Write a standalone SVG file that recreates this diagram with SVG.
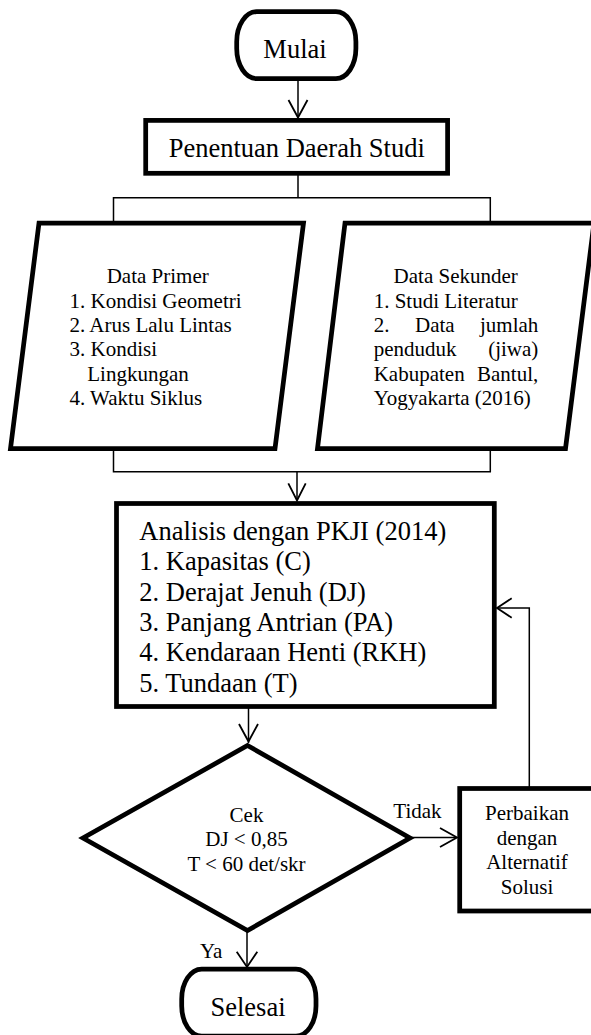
<svg xmlns="http://www.w3.org/2000/svg" width="591" height="1035" viewBox="0 0 591 1035">
<style>
.shape{fill:#fff;stroke:#000;stroke-width:4.75;stroke-linejoin:miter}
.line{fill:none;stroke:#000;stroke-width:1.5}
.head{fill:none;stroke:#000;stroke-width:1.8}
text{font-family:"Liberation Serif","Times New Roman",serif;fill:#000}
.big{font-size:26.5px}
.sm{font-size:21px}
.c{text-anchor:middle}
.e{text-anchor:end}
</style>
<rect width="591" height="1035" fill="#fff"/>
<g id="connectors">
<line class="line" x1="298" y1="78.6" x2="298" y2="117"/>
<polyline class="head" points="288.5,100 298,117.5 307.5,100"/>
<polyline class="line" points="298,173.3 298,197.7"/>
<polyline class="line" points="113.5,223 113.5,197.7 490.3,197.7 490.3,223"/>
<polyline class="line" points="113.5,448.5 113.5,471.7 490.3,471.7 490.3,448.5"/>
<line class="line" x1="297" y1="471.7" x2="297" y2="500"/>
<polyline class="head" points="288.3,483.3 297,500.5 305.7,483.3"/>
<line class="line" x1="248.5" y1="706.5" x2="248.5" y2="743"/>
<polyline class="head" points="239,724 248.5,741.5 258,724"/>
<line class="line" x1="410" y1="837.5" x2="456" y2="837.5"/>
<polyline class="head" points="440,828 457,837.5 440,847"/>
<line class="line" x1="247" y1="930.5" x2="247" y2="967"/>
<polyline class="head" points="236.7,951.7 247,967 257.3,951.7"/>
<polyline class="line" points="529.3,788.5 529.3,608 498,608"/>
<polyline class="head" points="511.7,598.3 497,608 511.7,617.7"/>
</g>
<g id="mulai">
<rect class="shape" x="236.7" y="11.7" width="119.2" height="66.9" rx="20" ry="30"/>
<text class="big c" x="295" y="57.7">Mulai</text>
</g>
<g id="penentuan">
<rect class="shape" x="145.7" y="120.4" width="301.9" height="52.9"/>
<text class="big c" x="296.7" y="156.7">Penentuan Daerah Studi</text>
</g>
<g id="data-primer">
<polygon class="shape" points="39,223 303.5,223 275,448.5 10.5,448.5"/>
<text class="sm c" x="157.7" y="283.3">Data Primer</text>
<text class="sm" x="69.5" y="307.6">1. Kondisi Geometri</text>
<text class="sm" x="69.5" y="331.9">2. Arus Lalu Lintas</text>
<text class="sm" x="69.5" y="356.2">3. Kondisi</text>
<text class="sm" x="87.3" y="380.5">Lingkungan</text>
<text class="sm" x="69.5" y="404.8">4. Waktu Siklus</text>
</g>
<g id="data-sekunder">
<polygon class="shape" points="345,223 594,223 565.5,448.5 317.5,448.5"/>
<text class="sm c" x="455.7" y="283.3">Data Sekunder</text>
<text class="sm" x="373.7" y="307.6">1. Studi Literatur</text>
<text class="sm" x="373.7" y="331.9">2.</text>
<text class="sm" x="415" y="331.9">Data</text>
<text class="sm e" x="538.3" y="331.9">jumlah</text>
<text class="sm" x="373.7" y="356.2">penduduk</text>
<text class="sm e" x="538.3" y="356.2">(jiwa)</text>
<text class="sm" x="373.7" y="380.5">Kabupaten</text>
<text class="sm e" x="538.3" y="380.5">Bantul,</text>
<text class="sm" x="373.7" y="404.8">Yogyakarta (2016)</text>
</g>
<g id="analisis">
<rect class="shape" x="116.5" y="503.5" width="377.8" height="203"/>
<text class="big" x="139.3" y="540">Analisis dengan PKJI (2014)</text>
<text class="big" x="139.3" y="570.3">1. Kapasitas (C)</text>
<text class="big" x="139.3" y="600.6">2. Derajat Jenuh (DJ)</text>
<text class="big" x="139.3" y="630.9">3. Panjang Antrian (PA)</text>
<text class="big" x="139.3" y="661.2">4. Kendaraan Henti (RKH)</text>
<text class="big" x="139.3" y="691.5">5. Tundaan (T)</text>
</g>
<g id="cek">
<polygon class="shape" points="247.5,745.5 410,838 247.5,930.5 83,838"/>
<text class="sm c" x="246.5" y="821.7">Cek</text>
<text class="sm c" x="246.5" y="846.4">DJ &lt; 0,85</text>
<text class="sm c" x="246.5" y="871">T &lt; 60 det/skr</text>
</g>
<g id="labels">
<text class="sm" x="393.3" y="817.7">Tidak</text>
<text class="sm" x="200" y="958.3">Ya</text>
</g>
<g id="perbaikan">
<rect class="shape" x="459.7" y="788.5" width="140" height="122.5"/>
<text class="sm c" x="527" y="820">Perbaikan</text>
<text class="sm c" x="527" y="844.5">dengan</text>
<text class="sm c" x="527" y="869">Alternatif</text>
<text class="sm c" x="527" y="893.5">Solusi</text>
</g>
<g id="selesai">
<rect class="shape" x="181.7" y="969" width="134.3" height="67" rx="20" ry="30"/>
<text class="big c" x="248" y="1016">Selesai</text>
</g>
</svg>
